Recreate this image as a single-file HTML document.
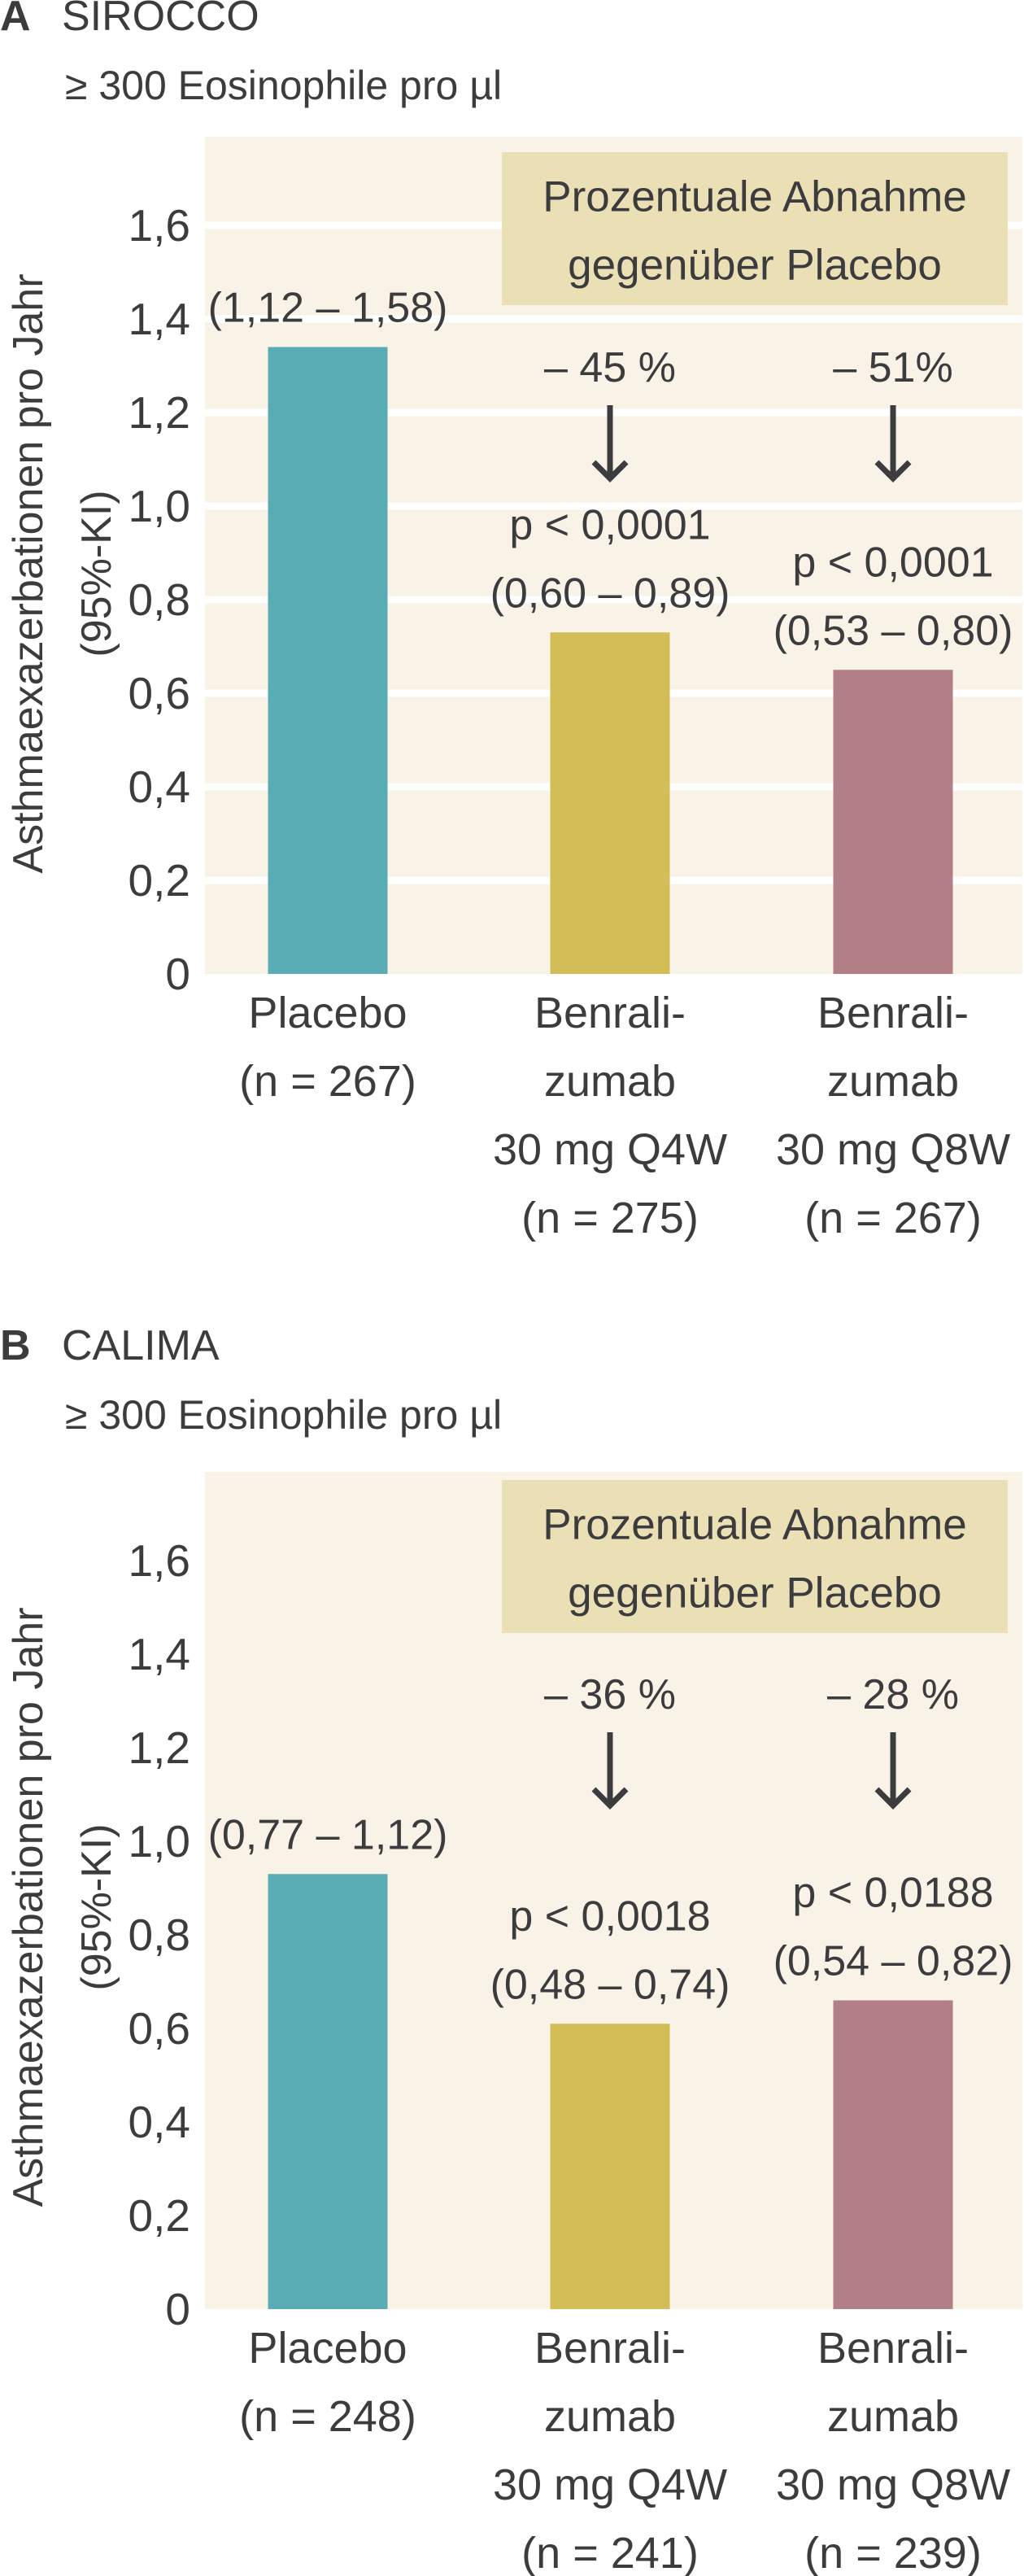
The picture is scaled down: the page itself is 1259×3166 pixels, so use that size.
<!DOCTYPE html>
<html><head><meta charset="utf-8">
<style>
html,body{margin:0;padding:0;background:#fff;}
svg{display:block;font-family:"Liberation Sans",sans-serif;fill:#3c3c3e;}
</style></head>
<body>
<svg id="chart" width="1259" height="3166" viewBox="0 0 1259 3166" xmlns="http://www.w3.org/2000/svg">
<g id="root"></g>
</svg>
<script>
// Shared
const categories = ["Placebo", "Benralizumab 30 mg Q4W", "Benralizumab 30 mg Q8W"];
const yTicks = [0, 0.2, 0.4, 0.6, 0.8, 1.0, 1.2, 1.4, 1.6];
const yTickLabels = ["0", "0,2", "0,4", "0,6", "0,8", "1,0", "1,2", "1,4", "1,6"];
// Panel A: SIROCCO
const valuesA = [1.34, 0.73, 0.65];
const nA = ["267", "275", "267"];
const ciA = ["(1,12 – 1,58)", "(0,60 – 0,89)", "(0,53 – 0,80)"];
const pA = ["", "p < 0,0001", "p < 0,0001"];
const reductionA = ["", "– 45 %", "– 51%"];
// Panel B: CALIMA
const valuesB = [0.93, 0.61, 0.66];
const nB = ["248", "241", "239"];
const ciB = ["(0,77 – 1,12)", "(0,48 – 0,74)", "(0,54 – 0,82)"];
const pB = ["", "p < 0,0018", "p < 0,0188"];
const reductionB = ["", "– 36 %", "– 28 %"];

const colors = ["#5aacb4", "#d3bd57", "#b37f87"];
const NS = "http://www.w3.org/2000/svg";
const root = document.getElementById("root");
function mk(tag, attrs, parent, text) {
  const e = document.createElementNS(NS, tag);
  for (const k in attrs) e.setAttribute(k, attrs[k]);
  if (text !== undefined) e.textContent = text;
  (parent || root).appendChild(e);
  return e;
}

function drawPanel(cfg) {
  const g = mk("g", {});
  
  
  const y0 = cfg.base, k = 575;
  const yScale = v => y0 - v * k;
  const xCenters = [403, 750, 1098];
  const xScale = i => xCenters[i];
  const barW = 147;

  const t = mk("text", {x: 0, y: cfg.titleY, "font-size": 52, "dominant-baseline": "central"}, g);
  
  
  mk("tspan", {"font-weight": "bold"}, t, cfg.letter);
  mk("tspan", {x: 76}, t, cfg.title);
  const st = mk("text", {x: 80, y: cfg.titleY + 85, "font-size": 50, "dominant-baseline": "central"}, g, "≥ 300 Eosinophile pro µl");
  
  

  const bg = mk("rect", {x: 252, y: cfg.bgTop, width: 1005, height: y0 - cfg.bgTop, fill: "#f8f3e6"}, g);
  
  

  yTicks.forEach((v, i) => {
    if (cfg.grid && v > 0) {
      const gl = mk("rect", {x: 252, y: yScale(v) - 4.5, width: 1005, height: 9, fill: "#ffffff"}, g);
      
      
    }
    const tl = mk("text", {x: 234, y: yScale(v), "font-size": 55, "text-anchor": "end", "dominant-baseline": "central"}, g, yTickLabels[i]);
    
    
  });

  const yt = mk("text", {transform: "translate(52," + cfg.yTitleY + ") rotate(-90)", "font-size": 52, "text-anchor": "middle"}, g, "Asthmaexazerbationen pro Jahr");
  
  
  const yt2 = mk("text", {transform: "translate(136," + cfg.yTitleY + ") rotate(-90)", "font-size": 52, "text-anchor": "middle"}, g, "(95%-KI)");
  
  

  cfg.values.forEach((v, i) => {
    const b = mk("rect", {x: xScale(i) - barW / 2, y: yScale(v), width: barW, height: v * k, fill: colors[i]}, g);
    
    
    const top = yScale(v);
    const ci = mk("text", {x: xScale(i), y: top - 48, "font-size": 52, "text-anchor": "middle", "dominant-baseline": "central"}, g, cfg.ci[i]);
    
    
    if (cfg.p[i]) {
      const p = mk("text", {x: xScale(i), y: top - 132, "font-size": 52, "text-anchor": "middle", "dominant-baseline": "central"}, g, cfg.p[i]);
      
      
      const r = mk("text", {x: xScale(i), y: cfg.redY, "font-size": 52, "text-anchor": "middle", "dominant-baseline": "central"}, g, cfg.red[i]);
      
      
      const a = mk("path", {d: "M" + xScale(i) + " " + (cfg.redY + 46) + " V" + (cfg.redY + 136) + " M" + (xScale(i) - 20) + " " + (cfg.redY + 116) + " L" + xScale(i) + " " + (cfg.redY + 136) + " L" + (xScale(i) + 20) + " " + (cfg.redY + 116), stroke: "#3c3c3e", "stroke-width": 7, fill: "none"}, g);
      
      
    }
    const lines = i === 0 ? ["Placebo", "(n = " + cfg.n[i] + ")"] : ["Benrali-", "zumab", "30 mg " + (i === 1 ? "Q4W" : "Q8W"), "(n = " + cfg.n[i] + ")"];
    lines.forEach((s, j) => {
      const c = mk("text", {x: xScale(i), y: y0 + 48 + j * 84, "font-size": 54, "text-anchor": "middle", "dominant-baseline": "central"}, g, s);
      
      
    });
  });

  const lb = mk("rect", {x: 617, y: cfg.legTop, width: 622, height: 188, fill: "#ebdfb5"}, g);
  
  
  const l1 = mk("text", {x: 928, y: cfg.legTop + 55, "font-size": 53, "text-anchor": "middle", "dominant-baseline": "central"}, g, "Prozentuale Abnahme");
  
  
  const l2 = mk("text", {x: 928, y: cfg.legTop + 139, "font-size": 53, "text-anchor": "middle", "dominant-baseline": "central"}, g, "gegenüber Placebo");
  
  
}

drawPanel({id: "sirocco", letter: "A", title: "SIROCCO", titleY: 20, base: 1197, bgTop: 168, grid: true,
  yTitleY: 705, legTop: 187, redY: 452,
  values: valuesA, n: nA, ci: ciA, p: pA, red: reductionA});
drawPanel({id: "calima", letter: "B", title: "CALIMA", titleY: 1654, base: 2838, bgTop: 1809, grid: false,
  yTitleY: 2344, legTop: 1819, redY: 2083,
  values: valuesB, n: nB, ci: ciB, p: pB, red: reductionB});
</script>
</body></html>
